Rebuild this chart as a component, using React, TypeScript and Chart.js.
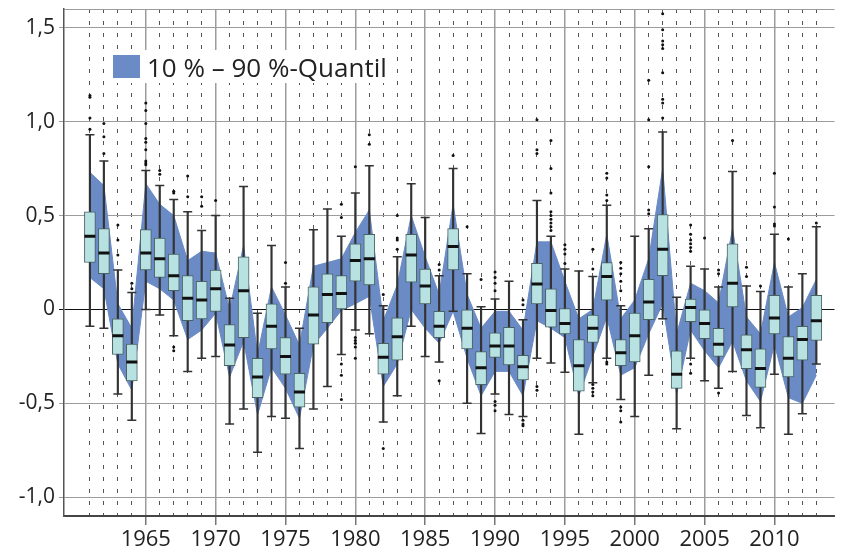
import React, { useEffect, useRef } from 'react';
import { Chart, registerables } from 'chart.js';

Chart.register(...registerables);

const years = [
  1961, 1962, 1963, 1964, 1965, 1966, 1967, 1968, 1969, 1970,
  1971, 1972, 1973, 1974, 1975, 1976, 1977, 1978, 1979, 1980,
  1981, 1982, 1983, 1984, 1985, 1986, 1987, 1988, 1989, 1990,
  1991, 1992, 1993, 1994, 1995, 1996, 1997, 1998, 1999, 2000,
  2001, 2002, 2003, 2004, 2005, 2006, 2007, 2008, 2009, 2010,
  2011, 2012, 2013,
];

const p10 = [
  0.17, 0.11, -0.29, -0.43, 0.15, 0.11, 0.05, -0.16, -0.11, -0.02,
  -0.36, -0.17, -0.56, -0.31, -0.42, -0.58, -0.19, -0.10, -0.005, 0.03,
  0.07, -0.41, -0.29, 0.0, -0.10, -0.18, -0.01, -0.26, -0.46, -0.33,
  -0.33, -0.46, -0.06, -0.10, -0.15, -0.46, -0.25, -0.04, -0.35, -0.31,
  -0.13, 0.03, -0.45, -0.11, -0.22, -0.31, -0.17, -0.38, -0.49, -0.185,
  -0.47, -0.50, -0.35,
];

const p90 = [
  0.73, 0.66, 0.03, -0.10, 0.67, 0.56, 0.50, 0.26, 0.31, 0.30,
  0.0, 0.34, -0.24, 0.12, -0.03, -0.19, 0.23, 0.25, 0.27, 0.41,
  0.53, -0.06, 0.13, 0.50, 0.28, 0.08, 0.56, 0.08, -0.10, -0.01,
  -0.01, -0.11, 0.36, 0.36, 0.15, -0.05, 0.0, 0.40, -0.05, 0.05,
  0.27, 0.75, -0.13, 0.14, 0.10, 0.035, 0.43, -0.04, -0.13, 0.25,
  -0.04, 0.01, 0.16,
];

const whiskerLow = [
  -0.09, -0.10, -0.45, -0.59, 0.0, -0.03, -0.14, -0.33, -0.26, -0.25,
  -0.61, -0.53, -0.76, -0.57, -0.58, -0.74, -0.53, -0.41, -0.24, -0.11,
  -0.13, -0.60, -0.46, -0.09, -0.25, -0.28, -0.01, -0.50, -0.66, -0.45,
  -0.56, -0.57, -0.26, -0.285, -0.335, -0.665, -0.39, -0.26, -0.48, -0.57,
  -0.35, -0.05, -0.635, -0.26, -0.38, -0.42, -0.33, -0.565, -0.63, -0.345,
  -0.665, -0.555, -0.29,
];

const q1 = [
  0.25, 0.19, -0.24, -0.38, 0.21, 0.17, 0.10, -0.06, -0.05, -0.01,
  -0.30, -0.15, -0.47, -0.21, -0.345, -0.52, -0.185, -0.07, 0.0, 0.15,
  0.13, -0.345, -0.27, 0.145, 0.03, -0.15, 0.21, -0.21, -0.40, -0.255,
  -0.295, -0.375, 0.03, -0.095, -0.13, -0.435, -0.175, 0.05, -0.30, -0.28,
  -0.055, 0.18, -0.42, -0.065, -0.155, -0.25, 0.013, -0.315, -0.415, -0.13,
  -0.36, -0.27, -0.165,
];

const median = [
  0.39, 0.30, -0.14, -0.28, 0.30, 0.27, 0.18, 0.06, 0.05, 0.11,
  -0.19, 0.10, -0.36, -0.09, -0.25, -0.44, -0.03, 0.08, 0.085, 0.26,
  0.27, -0.255, -0.145, 0.29, 0.125, -0.09, 0.335, -0.10, -0.31, -0.195,
  -0.195, -0.305, 0.135, -0.005, -0.075, -0.30, -0.10, 0.175, -0.23, -0.14,
  0.04, 0.32, -0.345, 0.01, -0.075, -0.185, 0.14, -0.215, -0.315, -0.045,
  -0.26, -0.16, -0.06,
];

const q3 = [
  0.52, 0.43, -0.05, -0.185, 0.425, 0.38, 0.295, 0.18, 0.15, 0.21,
  -0.08, 0.28, -0.26, 0.03, -0.15, -0.34, 0.12, 0.19, 0.18, 0.35,
  0.40, -0.18, -0.045, 0.40, 0.215, -0.01, 0.43, 0.0, -0.225, -0.125,
  -0.095, -0.245, 0.245, 0.11, 0.005, -0.16, -0.03, 0.25, -0.16, -0.02,
  0.16, 0.505, -0.22, 0.055, 0.0, -0.10, 0.35, -0.135, -0.21, 0.075,
  -0.145, -0.09, 0.075,
];

const whiskerHigh = [
  0.93, 0.79, 0.21, 0.09, 0.74, 0.66, 0.585, 0.52, 0.42, 0.50,
  0.06, 0.655, -0.02, 0.34, 0.12, -0.10, 0.425, 0.535, 0.39, 0.62,
  0.765, 0.02, 0.28, 0.67, 0.49, 0.18, 0.75, 0.19, 0.015, 0.055,
  0.15, -0.055, 0.58, 0.39, 0.215, 0.205, 0.175, 0.555, 0.02, 0.39,
  0.43, 0.945, 0.065, 0.23, 0.215, 0.12, 0.735, 0.125, 0.095, 0.40,
  0.12, 0.19, 0.44,
];

const outliers: number[][] = [
  [1.14, 1.13, 1.02, 0.96],
  [0.99, 0.92, 0.83],
  [0.45, 0.37, 0.29],
  [0.14, 0.11],
  [1.10, 1.06, 0.99, 0.91, 0.89, 0.85, 0.79, 0.78, 0.77],
  [0.74, 0.72],
  [0.63, 0.62, -0.20, -0.22],
  [0.71, 0.60],
  [0.60, 0.55],
  [0.58],
  [],
  [],
  [],
  [],
  [0.25, 0.14],
  [],
  [],
  [],
  [0.56, 0.49, -0.29, -0.35, -0.48],
  [0.76, -0.15, -0.165, -0.18, -0.20, -0.26],
  [0.93, 0.88],
  [0.08, -0.74],
  [0.50, 0.38, 0.37, 0.32],
  [],
  [],
  [0.24, 0.21, -0.38],
  [0.82],
  [0.44],
  [0.16],
  [0.20, 0.17, 0.14, 0.10, -0.49, -0.51, -0.54],
  [],
  [0.05, 0.025, -0.59, -0.61, -0.62],
  [1.01, 0.85, 0.83, -0.41, -0.43],
  [0.90, 0.75, 0.62, 0.52, 0.50, 0.48, 0.46, 0.44, 0.42],
  [0.345, 0.32, 0.295, 0.245],
  [],
  [0.32, 0.215, -0.40, -0.42, -0.44, -0.46],
  [0.725, 0.70, 0.61, 0.58, -0.28, -0.29],
  [0.25, 0.22, 0.19, 0.15, 0.10, -0.52, -0.54, -0.60],
  [],
  [1.22, 1.01, 0.76, 0.53, 0.51],
  [1.575, 1.49, 1.43, 1.41, 1.39, 1.26, 1.12, 1.10, 1.02],
  [],
  [0.45, 0.40, 0.37, 0.35, 0.33, 0.31, -0.29, -0.34],
  [0.38],
  [0.21, 0.19, -0.445],
  [0.90],
  [0.225, 0.175],
  [0.125],
  [0.725, 0.545, 0.455, 0.445],
  [0.375],
  [],
  [0.46],
];

const labeledYears = [1965, 1970, 1975, 1980, 1985, 1990, 1995, 2000, 2005, 2010];
const yTicks = [-1.0, -0.5, 0, 0.5, 1.0, 1.5];
const yTickLabels = ['-1,0', '-0,5', '0', '0,5', '1,0', '1,5'];
const legendLabel = '10 % \u2013 90 %-Quantil';

const BAND = '#6a8bc5';
const BOX = '#b8e2e2';
const FONT = '"Open Sans", "DejaVu Sans", sans-serif';

export default function App() {
  const ref = useRef<HTMLCanvasElement>(null);

  useEffect(() => {
    const canvas = ref.current;
    if (!canvas) return;
    const pts = (arr: number[]) => years.map((x, i) => ({ x, y: arr[i] }));
    const outlierPts = years.flatMap((x, i) => outliers[i].map((y) => ({ x, y })));
    const isFive = (v: number) => v % 5 === 0;

    const legendPlugin = {
      id: 'bandLegend',
      afterDatasetsDraw(chart: any) {
        const c = chart.ctx;
        const a = chart.chartArea;
        const x0 = a.left + 45;
        const y0 = a.top + 41;
        c.save();
        c.font = `26px ${FONT}`;
        const tw = c.measureText(legendLabel).width;
        c.fillStyle = '#ffffff';
        c.fillRect(x0, y0, 38 + tw + 4, 33);
        c.fillStyle = BAND;
        c.fillRect(x0 + 4, y0 + 5, 27, 23);
        c.fillStyle = '#222222';
        c.textBaseline = 'alphabetic';
        c.textAlign = 'left';
        c.fillText(legendLabel, x0 + 38, y0 + 27);
        c.restore();
      },
    };

    const chart = new Chart(canvas, {
      type: 'line',
      data: {
        datasets: [
          {
            type: 'line',
            label: 'p10',
            data: pts(p10),
            borderColor: BAND,
            borderWidth: 1,
            pointRadius: 0,
            fill: false,
            order: 10,
          },
          {
            type: 'line',
            label: legendLabel,
            data: pts(p90),
            borderColor: BAND,
            borderWidth: 1,
            backgroundColor: BAND,
            pointRadius: 0,
            fill: '-1',
            order: 9,
          },
          {
            type: 'bar',
            label: 'whisker',
            data: years.map((x, i) => ({ x, y: [whiskerLow[i], whiskerHigh[i]] })),
            backgroundColor: '#333333',
            borderWidth: 0,
            barThickness: 1.5,
            grouped: false,
            order: 8,
          },
          {
            type: 'bar',
            label: 'box',
            data: years.map((x, i) => ({ x, y: [q1[i], q3[i]] })),
            backgroundColor: BOX,
            borderColor: '#4a6262',
            borderWidth: 1,
            borderSkipped: false,
            barThickness: 11,
            grouped: false,
            order: 7,
          },
          {
            type: 'line',
            label: 'median',
            data: pts(median),
            showLine: false,
            pointStyle: 'line',
            pointRadius: 5.5,
            pointBorderColor: '#111111',
            pointBorderWidth: 3,
            order: 6,
          },
          {
            type: 'line',
            label: 'caps',
            data: [...pts(whiskerLow), ...pts(whiskerHigh)],
            showLine: false,
            pointStyle: 'line',
            pointRadius: 4.5,
            pointBorderColor: '#333333',
            pointBorderWidth: 1.5,
            order: 5,
          },
          {
            type: 'line',
            label: 'outliers',
            data: outlierPts,
            showLine: false,
            pointStyle: 'circle',
            pointRadius: 1.5,
            pointBackgroundColor: '#111111',
            pointBorderWidth: 0,
            order: 4,
          },
        ],
      },
      options: {
        animation: false,
        responsive: false,
        events: [],
        layout: { padding: { top: 9, right: 0, left: 0, bottom: 0 } },
        plugins: {
          legend: { display: false },
          tooltip: { enabled: false },
        },
        scales: {
          x: {
            type: 'linear',
            min: 1959.145,
            max: 2014.3,
            offset: false,
            afterBuildTicks: (s: any) => {
              s.ticks = years.map((v) => ({ value: v }));
            },
            afterFit: (s: any) => {
              s.height = 38;
              s.paddingLeft = 0;
              s.paddingRight = 0;
            },
            ticks: {
              autoSkip: false,
              maxRotation: 0,
              padding: 2,
              color: '#222222',
              font: { family: FONT, size: 22 },
              callback: (v: any) => (labeledYears.includes(Number(v)) ? String(v) : ''),
            },
            grid: {
              offset: false,
              color: (ctx: any) => (ctx.tick && isFive(ctx.tick.value) ? '#9c9c9c' : '#555555'),
              lineWidth: (ctx: any) => (ctx.tick && isFive(ctx.tick.value) ? 1.5 : 1),
              tickColor: (ctx: any) => (ctx.tick && isFive(ctx.tick.value) ? '#777777' : 'rgba(0,0,0,0)'),
              tickLength: 9,
            },
            border: {
              display: true,
              color: '#444444',
              width: 2,
              dash: (ctx: any) => (ctx.tick && !isFive(ctx.tick.value) ? [4, 8] : []),
            },
          },
          y: {
            type: 'linear',
            min: -1.1,
            max: 1.6,
            afterBuildTicks: (s: any) => {
              s.ticks = [...yTicks, 1.6].map((v) => ({ value: v }));
            },
            afterFit: (s: any) => {
              s.width = 64;
              s.paddingTop = 0;
              s.paddingBottom = 0;
            },
            ticks: {
              padding: 4,
              color: '#222222',
              font: { family: FONT, size: 21 },
              callback: (v: any) => {
                const i = yTicks.indexOf(Number(v));
                return i >= 0 ? yTickLabels[i] : '';
              },
            },
            grid: {
              color: (ctx: any) => (ctx.tick && ctx.tick.value === 0 ? '#111111' : '#9c9c9c'),
              lineWidth: 1,
              tickLength: 5,
              tickColor: (ctx: any) =>
                ctx.tick && ctx.tick.value === 1.6 ? 'rgba(0,0,0,0)' : ctx.tick && ctx.tick.value === 0 ? '#111111' : '#9c9c9c',
            },
            border: { display: true, color: '#555555', width: 1.5 },
          },
        },
      },
      plugins: [legendPlugin],
    } as any);

    return () => chart.destroy();
  }, []);

  return (
    <div style={{ position: 'absolute', left: 0, top: 0, width: 843, height: 554, background: '#fff' }}>
      <canvas ref={ref} width={843} height={554} style={{ display: 'block' }} />
    </div>
  );
}
